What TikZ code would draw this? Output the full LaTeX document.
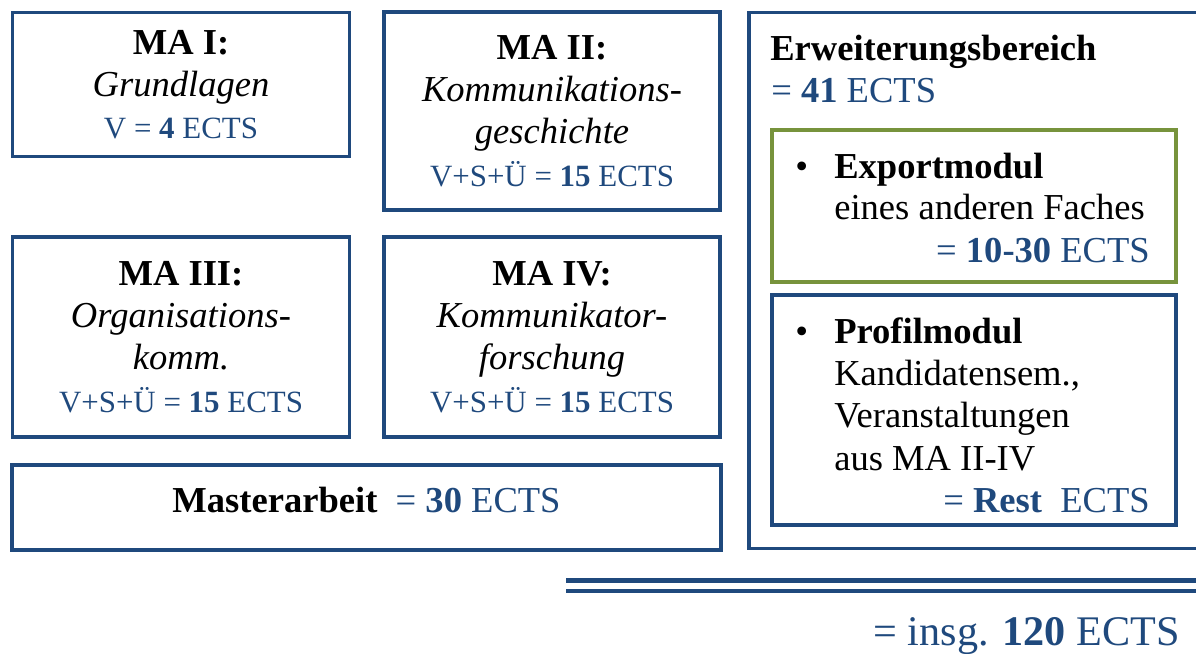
\documentclass[tikz,border=0pt]{standalone}
\usepackage{fontspec}
\setmainfont{Liberation Serif}
\usetikzlibrary{positioning}
\definecolor{ectsblue}{RGB}{31,73,125}
\definecolor{exportgreen}{RGB}{119,147,60}
\newcommand{\ects}[1]{{\color{ectsblue}#1}}
\newcommand{\ectsklein}[1]{{\fontsize{22}{30}\selectfont\color{ectsblue}#1}}

\begin{document}
\begin{tikzpicture}[font=\fontsize{26}{30}\selectfont]
  \tikzstyle{modul}=[rectangle, draw=ectsblue, line width=2.8pt, inner sep=0pt, align=center]
  \tikzstyle{zeile}=[anchor=base west, inner sep=0pt]

  \useasboundingbox (0,0) rectangle (29.9,-16.325);
  \clip (0,0) rectangle (29.9,-16.325);

  \node[modul, minimum width=8.425cm, minimum height=3.6cm]   (ma1) at (4.525, -2.1125)  {\textbf{MA I:}\\\textit{Grundlagen}\\\ectsklein{V = \textbf{4} ECTS}};
  \node[modul, minimum width=8.4cm,   minimum height=4.95cm]  (ma2) at (13.8,  -2.775)  {\textbf{MA II:}\\\textit{Kommunikations-}\\\textit{geschichte}\\\ectsklein{V+S+Ü = \textbf{15} ECTS}};
  \node[modul, minimum width=8.425cm, minimum height=5.0cm]   (ma3) at (4.525, -8.425)  {\textbf{MA III:}\\\textit{Organisations-}\\\textit{komm.}\\\ectsklein{V+S+Ü = \textbf{15} ECTS}};
  \node[modul, minimum width=8.4cm,   minimum height=5.0cm]   (ma4) at (13.8,  -8.425)  {\textbf{MA IV:}\\\textit{Kommunikator-}\\\textit{forschung}\\\ectsklein{V+S+Ü = \textbf{15} ECTS}};
  \node[modul, minimum width=17.725cm, minimum height=2.125cm, text depth=11pt] (master) at (9.1625, -12.6875) {\textbf{Masterarbeit}\ \ \ects{= \textbf{30} ECTS}};

  \node[modul, minimum width=11.525cm, minimum height=13.4cm] (erw) at (24.4875, -7.0125) {};
  \node[modul, draw=exportgreen, minimum width=10.1cm, minimum height=3.8cm] (export) at (24.35, -5.15) {};
  \node[modul, minimum width=10.1cm, minimum height=5.75cm] (profil) at (24.35, -10.25) {};

  % Erweiterungsbereich
  \node[zeile] (erwtitel) at (19.25,  -1.5)   {\textbf{Erweiterungsbereich}};
  \node[zeile] (erwects)  at (19.275, -2.55)  {\ects{= \textbf{41} ECTS}};

  \node[zeile] (exppunkt) at (19.875, -4.45)  {\textbullet};
  \node[zeile] (exptitel) at (20.85,  -4.45)  {\textbf{Exportmodul}};
  \node[zeile] (expfach)  at (20.85,  -5.475) {eines anderen Faches};
  \node[zeile, anchor=base east] (expects) at (28.75, -6.55) {\ects{= \textbf{10-30} ECTS}};

  \node[zeile] (propunkt) at (19.875, -8.575)  {\textbullet};
  \node[zeile] (protitel) at (20.85,  -8.575)  {\textbf{Profilmodul}};
  \node[zeile] (prokand)  at (20.85,  -9.625)  {Kandidatensem.,};
  \node[zeile] (proveran) at (20.85,  -10.675) {Veranstaltungen};
  \node[zeile] (proaus)   at (20.85,  -11.75)  {aus MA II-IV};
  \node[zeile, anchor=base east] (proects) at (28.75, -12.8) {\ects{= \textbf{Rest}\ \ ECTS}};

  % Summe
  \coordinate (summe1a) at (14.15, -14.5125);
  \coordinate (summe1b) at (30.2,  -14.5125);
  \coordinate (summe2a) at (14.15, -14.775);
  \coordinate (summe2b) at (30.2,  -14.775);
  \draw[ectsblue, line width=3pt] (summe1a) -- (summe1b);
  \draw[ectsblue, line width=3pt] (summe2a) -- (summe2b);

  \node[anchor=base east, inner sep=0pt, font=\fontsize{30}{34}\selectfont] (gesamt) at (29.5, -16.125) {\ects{= insg. \textbf{120} ECTS}};
\end{tikzpicture}
\end{document}
